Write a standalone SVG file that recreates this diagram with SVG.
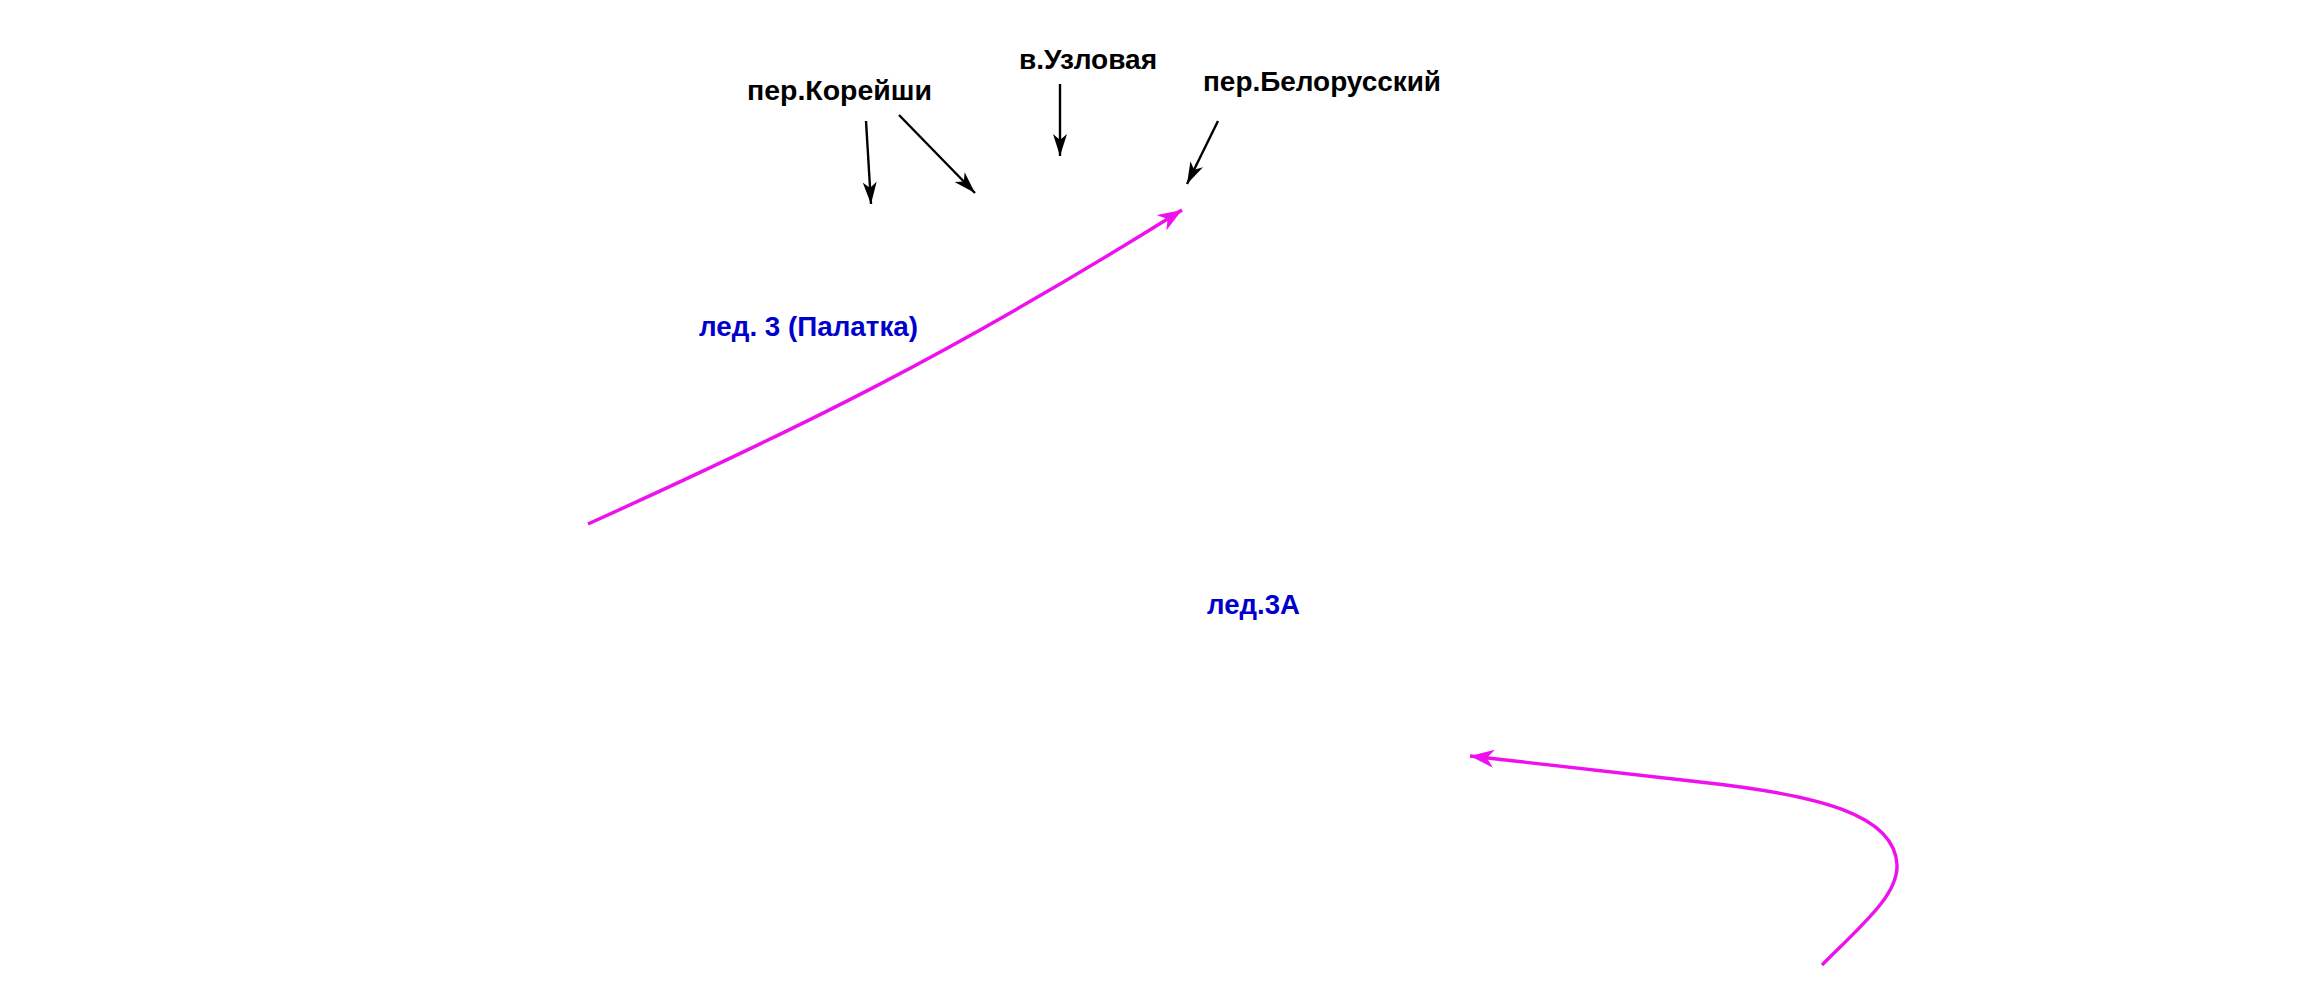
<svg xmlns="http://www.w3.org/2000/svg" width="2318" height="1000" viewBox="0 0 2318 1000">
<style>
.lbl{font-family:"Liberation Sans",Arial,sans-serif;font-weight:bold;font-size:28px;fill:#000}
.blue{font-family:"Liberation Sans",Arial,sans-serif;font-weight:bold;font-size:28px;fill:#0000CC}
.blk{stroke:#000;stroke-width:2.4;fill:none;marker-end:url(#ah)}
.mag{stroke:#EE11EE;stroke-width:3.4;fill:none;marker-end:url(#am)}
</style>
<defs>
<marker id="ah" markerWidth="24" markerHeight="14" refX="22" refY="7" orient="auto" markerUnits="userSpaceOnUse">
<path d="M0,0 L22,7 L0,14 L6,7 Z" fill="#000"/>
</marker>
<marker id="am" markerWidth="26" markerHeight="18" refX="24" refY="9" orient="auto" markerUnits="userSpaceOnUse">
<path d="M0,0 L24,9 L0,18 L7,9 Z" fill="#EE11EE"/>
</marker>
</defs>
<rect width="2318" height="1000" fill="#fff"/>
<g id="n-koreishi"><text class="lbl" x="747" y="100" textLength="185" lengthAdjust="spacingAndGlyphs">пер.Корейши</text></g>
<g id="n-uzlovaya"><text class="lbl" x="1019" y="69" textLength="138" lengthAdjust="spacingAndGlyphs">в.Узловая</text></g>
<g id="n-belorussky"><text class="lbl" x="1203" y="91" textLength="238" lengthAdjust="spacingAndGlyphs">пер.Белорусский</text></g>
<g id="n-led3"><text class="blue" x="699" y="336" textLength="219" lengthAdjust="spacingAndGlyphs">лед. 3 (Палатка)</text></g>
<g id="n-led3a"><text class="blue" x="1207" y="614" textLength="93" lengthAdjust="spacingAndGlyphs">лед.3А</text></g>
<g id="connectors">
<line class="blk" x1="866" y1="121" x2="871" y2="204"/>
<line class="blk" x1="899" y1="115" x2="975" y2="193"/>
<line class="blk" x1="1060" y1="84" x2="1060" y2="156"/>
<line class="blk" x1="1218" y1="121" x2="1187" y2="184"/>
<path class="mag" d="M588,524 C800,428 950,355 1182,210"/>
<path class="mag" d="M1822,965 C1862,925 1898,895 1897,865 C1895,815 1820,795 1700,782 L1470,756"/>
</g>
</svg>
